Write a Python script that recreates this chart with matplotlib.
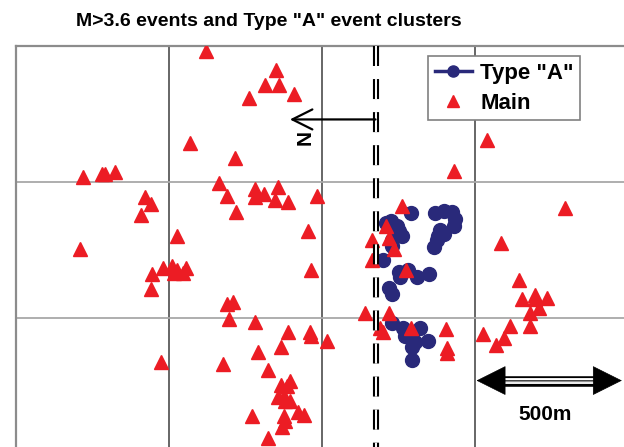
import matplotlib
matplotlib.use('Agg')
import matplotlib.pyplot as plt
from matplotlib.lines import Line2D

plt.rcParams['font.family'] = ['Liberation Sans', 'DejaVu Sans']
plt.rcParams['lines.scale_dashes'] = False

# event positions in grid units (x east->, y from top edge down)
main_x = [1.24, 1.70, 1.63, 1.72, 1.82, 1.52, 1.14, 1.43, 0.44, 0.56, 0.58, 0.65,
          1.33, 1.38, 1.56, 1.56, 1.62, 1.71, 1.69, 1.78, 1.97, 0.84, 0.88, 0.82,
          1.44, 1.91, 1.05, 0.42, 0.89, 0.88, 0.96, 1.02, 1.03, 1.05, 1.09, 1.11,
          1.93, 1.38, 1.42, 1.39, 1.56, 1.78, 1.92, 1.93, 2.03, 1.73, 1.58, 0.95,
          1.35, 1.65, 1.73, 1.79, 1.77, 1.71, 1.75, 1.76, 1.79, 1.84, 1.88, 1.54,
          1.75, 1.76, 1.74, 1.65, 3.08, 2.86, 3.59, 3.17, 3.29, 3.31, 3.39, 3.39,
          3.47, 3.42, 3.36, 3.23, 3.36, 3.05, 3.19, 3.14, 2.81, 2.82, 2.82, 2.52,
          2.42, 2.33, 2.44, 2.47, 2.33, 2.55, 2.28, 2.44, 2.38, 2.40, 2.58]
main_y = [0.04, 0.18, 0.29, 0.29, 0.35, 0.38, 0.71, 0.82, 0.96, 0.94, 0.94, 0.93,
          1.01, 1.10, 1.05, 1.11, 1.09, 1.04, 1.13, 1.15, 1.10, 1.11, 1.16, 1.24,
          1.22, 1.36, 1.40, 1.49, 1.68, 1.79, 1.63, 1.62, 1.67, 1.65, 1.67, 1.63,
          1.65, 1.90, 1.88, 2.01, 2.03, 2.10, 2.10, 2.13, 2.17, 2.21, 2.25, 2.32,
          2.34, 2.38, 2.49, 2.46, 2.50, 2.58, 2.57, 2.61, 2.61, 2.69, 2.71, 2.72,
          2.72, 2.76, 2.80, 2.88, 0.69, 0.92, 1.19, 1.45, 1.72, 1.86, 1.83, 1.86,
          1.85, 1.93, 1.96, 2.06, 2.06, 2.12, 2.15, 2.20, 2.08, 2.22, 2.26, 1.18,
          1.32, 1.43, 1.41, 1.49, 1.57, 1.65, 1.96, 1.96, 2.07, 2.10, 2.07]

typeA_x = [2.58, 2.74, 2.80, 2.85, 2.87, 2.86, 2.77, 2.80, 2.76, 2.75, 2.73,
           2.42, 2.45, 2.49, 2.50, 2.52, 2.46, 2.46, 2.40, 2.50, 2.56, 2.51,
           2.62, 2.70, 2.44, 2.46, 2.46, 2.53, 2.54, 2.64, 2.61, 2.59, 2.69, 2.59]
typeA_y = [1.23, 1.23, 1.21, 1.22, 1.27, 1.32, 1.35, 1.38, 1.40, 1.43, 1.48,
           1.30, 1.29, 1.32, 1.36, 1.40, 1.43, 1.47, 1.57, 1.66, 1.65, 1.70,
           1.70, 1.68, 1.78, 1.82, 2.04, 2.07, 2.13, 2.07, 2.18, 2.21, 2.17, 2.31]

fault_x = 2.35
red = '#ec1c24'
navy = '#29297a'

fig = plt.figure(figsize=(6.24, 4.47), dpi=100)
ax = fig.add_axes([16/624, 1 - 46/447 - 408/447, 612/624, 408/447])
ax.set_xlim(0, 4.0)
ax.set_ylim(3.0, 0)

ax.set_xticks([1, 2, 3])
ax.set_yticks([1, 2])
ax.tick_params(length=0, labelbottom=False, labelleft=False)
ax.xaxis.grid(True, color='#5a5a5a', lw=1.3)
ax.yaxis.grid(True, color='#a8a8a8', lw=1.3)
ax.set_axisbelow(True)
for s in ['left', 'top']:
    ax.spines[s].set_color('#8c8c8c')
    ax.spines[s].set_linewidth(1.6)

ax.plot(typeA_x, typeA_y, 'o', color=navy, ms=10, ls='none', zorder=3)
ax.plot(main_x, main_y, '^', color=red, ms=9.5, ls='none', zorder=4)

# double dashed fault line
ax.plot([fault_x, fault_x], [0, 3], color='k', lw=4.4, solid_capstyle='butt',
        dashes=(14.4, 9.4), dash_capstyle='butt', zorder=5)
ax.plot([fault_x, fault_x], [0, 3], color='white', lw=1.4,
        dashes=(14.4, 9.4), dash_capstyle='butt', zorder=6)

# north arrow
ax.annotate('', xy=(1.79, 0.54), xytext=(fault_x, 0.54),
            arrowprops=dict(arrowstyle='->,head_length=0.8,head_width=0.4',
                            mutation_scale=18, lw=1.6, color='k',
                            shrinkA=0, shrinkB=0), zorder=6)
ax.text(1.89, 0.67, 'N', rotation=90, ha='center', va='center',
        fontsize=15, fontweight='bold')

# scale bar
ax.plot([3.18, 3.80], [2.46, 2.46], color='k', lw=7.6, solid_capstyle='butt', zorder=6)
ax.plot([3.18, 3.80], [2.46, 2.46], color='white', lw=4.2, solid_capstyle='butt', zorder=7)
ax.plot([3.18, 3.80], [2.46, 2.46], color='#909090', lw=1.0, solid_capstyle='butt', zorder=8)
ax.annotate('', xy=(3.96, 2.46), xytext=(3.01, 2.46),
            arrowprops=dict(arrowstyle='<|-|>,head_length=1.0,head_width=0.5',
                            mutation_scale=20, lw=0.5, color='k',
                            shrinkA=0, shrinkB=0), zorder=9)
ax.text(3.46, 2.71, '500m', ha='center', va='center', fontsize=15, fontweight='bold')

handles = [Line2D([], [], color=navy, marker='o', ms=8, lw=2.5),
           Line2D([], [], color=red, marker='^', ls='none', ms=9)]
leg = ax.legend(handles, ['Type "A"', 'Main'], loc='upper left',
                bbox_to_anchor=(0.673, 0.975), fancybox=False, framealpha=1,
                edgecolor='#808080', prop={'weight': 'bold', 'size': 16},
                handlelength=1.7, borderpad=0.3, labelspacing=0.4,
                handletextpad=0.35, borderaxespad=0)
leg.get_frame().set_linewidth(1.2)
leg.set_zorder(10)

fig.text(0.43, 0.951, 'M>3.6 events and Type "A" event clusters', ha='center',
         va='center', fontsize=14, fontweight='bold')

fig.savefig('out.png', dpi=100)
